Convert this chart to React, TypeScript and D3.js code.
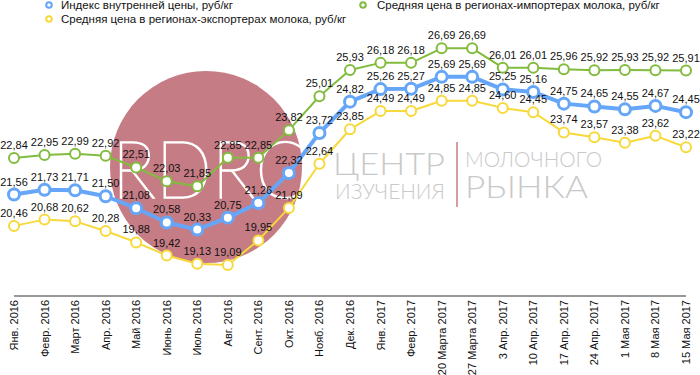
import React from "react";
import * as d3 from "d3";

const categories = [
  "Янв. 2016", "Февр. 2016", "Март 2016", "Апр. 2016", "Май 2016", "Июнь 2016",
  "Июль 2016", "Авг. 2016", "Сент. 2016", "Окт. 2016", "Нояб. 2016", "Дек. 2016",
  "Янв. 2017", "Февр. 2017", "20 Марта 2017", "27 Марта 2017", "3 Апр. 2017",
  "10 Апр. 2017", "17 Апр. 2017", "24 Апр. 2017", "1 Мая 2017", "8 Мая 2017", "15 Мая 2017",
];

const indexPrice = [21.56, 21.73, 21.71, 21.5, 21.08, 20.58, 20.33, 20.75, 21.26, 22.32, 23.72, 24.82, 25.26, 25.27, 25.69, 25.69, 25.25, 25.16, 24.75, 24.65, 24.55, 24.67, 24.45];
const importerPrice = [22.84, 22.95, 22.99, 22.92, 22.51, 22.03, 21.85, 22.85, 22.85, 23.82, 25.01, 25.93, 26.18, 26.18, 26.69, 26.69, 26.01, 26.01, 25.96, 25.92, 25.93, 25.92, 25.91];
const exporterPrice = [20.46, 20.68, 20.62, 20.28, 19.88, 19.42, 19.13, 19.09, 19.95, 21.09, 22.64, 23.85, 24.49, 24.49, 24.85, 24.85, 24.6, 24.45, 23.74, 23.57, 23.38, 23.62, 23.22];

const seriesNames = [
  "Индекс внутренней цены, руб/кг",
  "Средняя цена в регионах-экспортерах молока, руб/кг",
  "Средняя цена в регионах-импортерах молока, руб/кг",
];

const FONT = "'Liberation Sans', Arial, Helvetica, sans-serif";

export default function App() {
  const W = 700, H = 375;
  const x = d3.scalePoint<string>().domain(categories).range([14, 686]);
  const y = d3.scaleLinear().domain([18, 28]).range([296, 11]);
  const fmt = (v: number) => v.toFixed(2).replace(".", ",");

  const series = [
    { name: seriesNames[2], values: importerPrice, color: "#82bc3f", lw: 2, r: 5, sw: 2 },
    { name: seriesNames[0], values: indexPrice, color: "#66a6f8", lw: 4, r: 5.5, sw: 3 },
    { name: seriesNames[1], values: exporterPrice, color: "#f7d93c", lw: 2, r: 5, sw: 2 },
  ];

  const line = d3
    .line<number>()
    .x((_, i) => x(categories[i]) as number)
    .y((v) => y(v));

  return (
    <svg width={W} height={H} style={{ position: "absolute", left: 0, top: 0, background: "#fff" }} fontFamily={FONT}>
      {/* watermark */}
      <circle cx={206} cy={167} r={96} fill="#c67c84" />
      <text x={112} y={198} fontFamily="Lato, sans-serif" fontWeight={100} fontSize={80} fill="none" stroke="#fff" strokeWidth={1.6} textLength={194} lengthAdjust="spacingAndGlyphs">RDRC</text>
      <text x={333} y={175} fontFamily="Lato, sans-serif" fontWeight={300} fontSize={32} fill="#c9c9c9" textLength={112} lengthAdjust="spacingAndGlyphs">ЦЕНТР</text>
      <text x={335} y={199} fontFamily="Lato, sans-serif" fontWeight={300} fontSize={22} fill="#c9c9c9" textLength={110} lengthAdjust="spacingAndGlyphs">ИЗУЧЕНИЯ</text>
      <line x1={457} x2={457} y1={142} y2={207} stroke="#c67c84" strokeWidth={1.5} />
      <text x={465} y={167} fontFamily="Lato, sans-serif" fontWeight={300} fontSize={21} fill="#c9c9c9" textLength={137} lengthAdjust="spacingAndGlyphs">МОЛОЧНОГО</text>
      <text x={465} y={198} fontFamily="Lato, sans-serif" fontWeight={300} fontSize={32} fill="#c9c9c9" textLength={123} lengthAdjust="spacingAndGlyphs">РЫНКА</text>

      {/* legend */}
      {[
        { cx: 49, cy: 5, tx: 61, s: series[1] },
        { cx: 49, cy: 19, tx: 61, s: series[2] },
        { cx: 363, cy: 5, tx: 377, s: series[0] },
      ].map((l, i) => (
        <g key={i}>
          <circle cx={l.cx} cy={l.cy} r={2.8} fill="#fff" stroke={l.s.color} strokeWidth={2} />
          <text x={l.tx} y={l.cy + 4} fontSize={11.5} fill="#111">{l.s.name}</text>
        </g>
      ))}

      {/* axis */}
      <line x1={14} x2={686} y1={296} y2={296} stroke="#333" strokeWidth={1} />
      {categories.map((c) => (
        <text
          key={c}
          transform={`translate(${(x(c) as number) + 4},300) rotate(-90)`}
          textAnchor="end"
          fontSize={11}
          fill="#111"
        >
          {c}
        </text>
      ))}

      {/* series */}
      {series.map((s) => (
        <g key={s.name}>
          <path d={line(s.values) || ""} fill="none" stroke={s.color} strokeWidth={s.lw} strokeLinejoin="round" />
          {s.values.map((v, i) => (
            <circle key={i} cx={x(categories[i]) as number} cy={y(v)} r={s.r} fill="#fff" stroke={s.color} strokeWidth={s.sw} />
          ))}
        </g>
      ))}
      {series.map((s) => (
        <g key={s.name + "-l"}>
          {s.values.map((v, i) => (
            <text key={i} x={x(categories[i]) as number} y={y(v) - 9} textAnchor="middle" fontSize={11} fill="#111">
              {fmt(v)}
            </text>
          ))}
        </g>
      ))}
    </svg>
  );
}
